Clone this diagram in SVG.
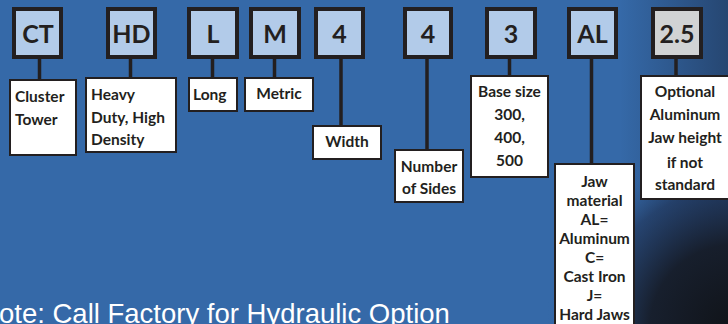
<svg xmlns="http://www.w3.org/2000/svg" width="728" height="324" viewBox="0 0 728 324">
<defs>
<radialGradient id="dark" cx="735" cy="330" r="190" gradientUnits="userSpaceOnUse">
<stop offset="0" stop-color="#101318" stop-opacity="1"/>
<stop offset="0.45" stop-color="#161c28" stop-opacity="0.95"/>
<stop offset="0.75" stop-color="#1e3052" stop-opacity="0.6"/>
<stop offset="1" stop-color="#3569a8" stop-opacity="0"/>
</radialGradient>
<linearGradient id="edge" x1="620" y1="0" x2="728" y2="0" gradientUnits="userSpaceOnUse">
<stop offset="0" stop-color="#1a2a45" stop-opacity="0"/>
<stop offset="1" stop-color="#1a2a45" stop-opacity="0.55"/>
</linearGradient>
<style>
.code{fill:#b2cbe9;stroke:#231f20;stroke-width:4}
.code.gray{fill:#d1d3d4}
.ct{font-family:Lato,"Liberation Sans",sans-serif;font-weight:bold;font-size:25px;fill:#231f20;text-anchor:middle}
.lbl{fill:#ffffff;stroke:#231f20;stroke-width:2}
.t{font-family:Lato,"Liberation Sans",sans-serif;font-weight:bold;font-size:15.5px;fill:#231f20}
.m{text-anchor:middle}
.con line{stroke:#231f20;stroke-width:3.5}
.note{font-family:"Liberation Sans",Arial,sans-serif;font-size:27.5px;fill:#ffffff}
</style>
</defs>
<rect x="0" y="0" width="728" height="324" fill="#3569a8"/>
<rect x="0" y="0" width="728" height="324" fill="url(#edge)"/>
<rect x="0" y="0" width="728" height="324" fill="url(#dark)"/>

<g id="connectors" class="con">
<line x1="39.5" y1="58" x2="39.5" y2="80"/>
<line x1="130.5" y1="58" x2="130.5" y2="78"/>
<line x1="212.5" y1="58" x2="212.5" y2="78"/>
<line x1="274.5" y1="58" x2="274.5" y2="78"/>
<line x1="341" y1="58" x2="341" y2="126"/>
<line x1="427" y1="58" x2="427" y2="150"/>
<line x1="509.5" y1="58" x2="509.5" y2="76"/>
<line x1="591.5" y1="58" x2="591.5" y2="164"/>
<line x1="676" y1="58" x2="676" y2="76"/>
</g>

<g id="code-CT"><rect class="code" x="14" y="9" width="47" height="48"/><text class="ct" x="38" y="43">CT</text></g>
<g id="code-HD"><rect class="code" x="108" y="9" width="47" height="48"/><text class="ct" x="131.5" y="43">HD</text></g>
<g id="code-L"><rect class="code" x="189" y="9" width="48" height="48"/><text class="ct" x="213" y="43">L</text></g>
<g id="code-M"><rect class="code" x="251" y="9" width="48" height="48"/><text class="ct" x="275" y="43">M</text></g>
<g id="code-4w"><rect class="code" x="316" y="9" width="47" height="48"/><text class="ct" x="339.5" y="43">4</text></g>
<g id="code-4s"><rect class="code" x="405" y="9" width="46" height="48"/><text class="ct" x="428" y="43">4</text></g>
<g id="code-3"><rect class="code" x="487" y="9" width="48" height="48"/><text class="ct" x="511" y="43">3</text></g>
<g id="code-AL"><rect class="code" x="569" y="9" width="47" height="48"/><text class="ct" x="592.5" y="43">AL</text></g>
<g id="code-25"><rect class="code gray" x="653" y="9" width="48" height="48"/><text class="ct" x="677" y="43">2.5</text></g>

<g id="lbl-cluster"><rect class="lbl" x="10" y="80" width="66" height="75"/>
<text class="t" x="15" y="102">Cluster</text><text class="t" x="15" y="125">Tower</text></g>
<g id="lbl-heavy"><rect class="lbl" x="86" y="78" width="90" height="74"/>
<text class="t" x="91" y="100">Heavy</text><text class="t" x="91" y="123">Duty, High</text><text class="t" x="91" y="145">Density</text></g>
<g id="lbl-long"><rect class="lbl" x="189" y="78" width="48" height="33"/>
<text class="t" x="193" y="100">Long</text></g>
<g id="lbl-metric"><rect class="lbl" x="245" y="78" width="68" height="33"/>
<text class="t m" x="279" y="99">Metric</text></g>
<g id="lbl-width"><rect class="lbl" x="313" y="126" width="68" height="33"/>
<text class="t m" x="347" y="147">Width</text></g>
<g id="lbl-sides"><rect class="lbl" x="395" y="150" width="68" height="52"/>
<text class="t m" x="429" y="172">Number</text><text class="t m" x="429" y="194">of Sides</text></g>
<g id="lbl-base"><rect class="lbl" x="471" y="76" width="77" height="101"/>
<text class="t m" x="509.5" y="97">Base size</text><text class="t m" x="509.5" y="120">300,</text><text class="t m" x="509.5" y="143">400,</text><text class="t m" x="509.5" y="166">500</text></g>
<g id="lbl-jaw"><rect class="lbl" x="555" y="164" width="79" height="170"/>
<text class="t m" x="594.5" y="187">Jaw</text><text class="t m" x="594.5" y="206">material</text><text class="t m" x="594.5" y="225">AL=</text><text class="t m" x="594.5" y="244">Aluminum</text><text class="t m" x="594.5" y="263">C=</text><text class="t m" x="594.5" y="282">Cast Iron</text><text class="t m" x="594.5" y="301">J=</text><text class="t m" x="594.5" y="320">Hard Jaws</text></g>
<g id="lbl-optional"><rect class="lbl" x="641" y="76" width="92" height="123"/>
<text class="t m" x="685" y="97">Optional</text><text class="t m" x="685" y="120">Aluminum</text><text class="t m" x="685" y="143">Jaw height</text><text class="t m" x="685" y="168">if not</text><text class="t m" x="685" y="190">standard</text></g>

<text class="note" x="-1" y="323">ote: Call Factory for Hydraulic Option</text>
</svg>
